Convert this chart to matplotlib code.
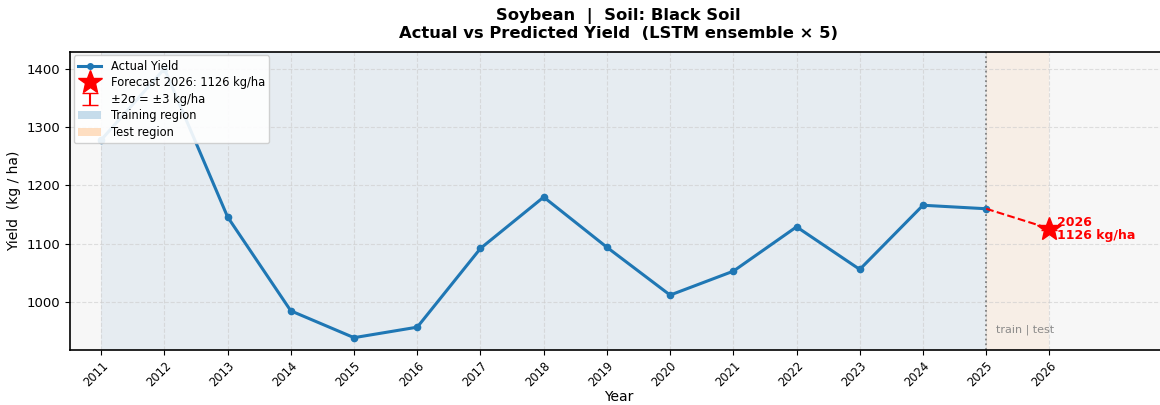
import matplotlib
matplotlib.use("Agg")
import matplotlib.pyplot as plt
from matplotlib.patches import Patch
from matplotlib.lines import Line2D

years = [2011, 2012, 2013, 2014, 2015, 2016, 2017, 2018, 2019, 2020, 2021, 2022, 2023, 2024, 2025]
yield_kg = [1278, 1400, 1146, 985, 939, 957, 1092, 1180, 1094, 1012, 1053, 1129, 1056, 1166, 1160]
forecast_year = 2026
forecast_val = 1126
sigma2 = 3
tick_years = list(range(2011, 2027))

fig = plt.figure(figsize=(11.6, 4.05), dpi=100)
ax = fig.add_axes([0.0605, 0.136, 0.945, 0.736])
ax.set_facecolor('#f7f7f7')

ax.axvspan(years[0], years[-1], color='#1f77b4', alpha=0.08, lw=0, zorder=0)
ax.axvspan(years[-1], forecast_year, color='#ff7f0e', alpha=0.07, lw=0, zorder=0)
ax.axvline(years[-1], color='grey', ls=':', lw=1.3, zorder=1)

ax.grid(True, ls='--', color='#cccccc', alpha=0.6, lw=0.8, zorder=0.5)
ax.set_axisbelow(True)

ax.plot(years, yield_kg, '-o', color='#1f77b4', lw=2.2, ms=4.5, zorder=3)
ax.plot([years[-1], forecast_year], [yield_kg[-1], forecast_val], '--', color='red', lw=1.5, zorder=3)
eb = ax.errorbar([forecast_year], [forecast_val], yerr=[sigma2], fmt='none', ecolor='red',
                 capsize=6, lw=1.5, zorder=4)
ax.plot([forecast_year], [forecast_val], marker='*', color='red', ms=18, ls='none', zorder=5)

ax.text(forecast_year + 0.12, forecast_val, f"{forecast_year}\n{forecast_val} kg/ha", color='red',
        fontsize=9, fontweight='bold', va='center', ha='left', linespacing=1.0, zorder=6)
ax.text(years[-1] + 0.15, 0.05, "train | test", transform=ax.get_xaxis_transform(), color='grey',
        fontsize=8, alpha=0.9, va='bottom', ha='left')

ax.set_xlim(2010.51, 2027.85)
ax.set_ylim(918, 1429)
ax.set_xticks(tick_years)
ax.set_xticklabels([str(y) for y in tick_years], rotation=45, ha='right', fontsize=8.3, rotation_mode='anchor')
ax.tick_params(axis='y', labelsize=9.5)
ax.set_yticks([1000, 1100, 1200, 1300, 1400])
for s in ax.spines.values():
    s.set_linewidth(1.2)
ax.set_xlabel("Year", fontsize=10, labelpad=0)
ax.set_ylabel("Yield  (kg / ha)", fontsize=10)
ax.set_title("Soybean  |  Soil: Black Soil\nActual vs Predicted Yield  (LSTM ensemble \u00d7 5)",
             fontsize=11.8, fontweight='bold', pad=10, linespacing=1.15)

handles = [
    Line2D([0], [0], color='#1f77b4', lw=2.2, marker='o', ms=4),
    Line2D([0], [0], color='red', marker='*', ms=18, ls='none'),
    eb,
    Patch(facecolor='#1f77b4', alpha=0.25),
    Patch(facecolor='#ff7f0e', alpha=0.25),
]
labels = ["Actual Yield", f"Forecast {forecast_year}: {forecast_val} kg/ha",
          f"\u00b12\u03c3 = \u00b1{sigma2} kg/ha", "Training region", "Test region"]
ax.legend(handles, labels, loc='upper left', fontsize=8.3, framealpha=0.9,
          borderpad=0.4, labelspacing=0.30, handlelength=2.0, borderaxespad=0.3)

fig.savefig("out.png", dpi=100)
